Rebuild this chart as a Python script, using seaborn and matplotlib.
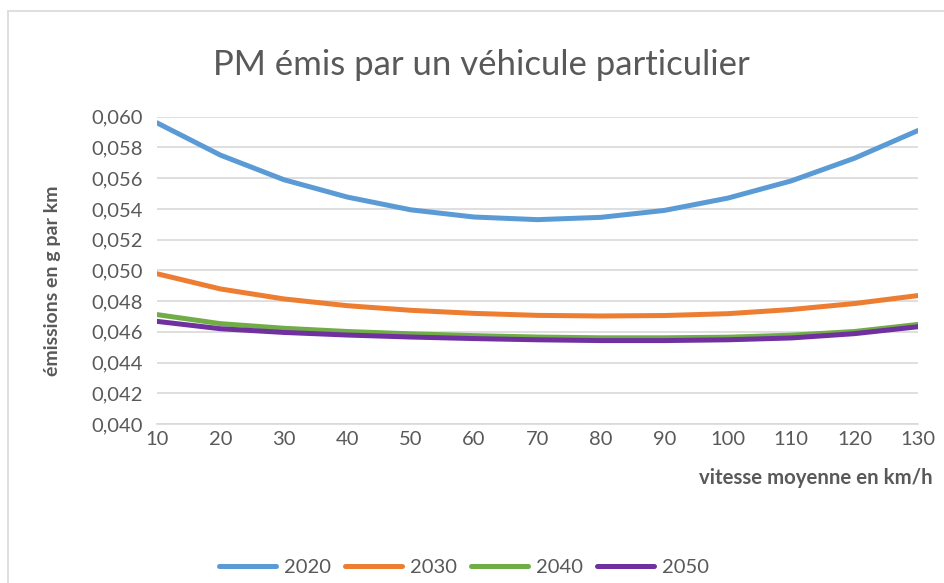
import numpy as np
import pandas as pd
import matplotlib
matplotlib.use("Agg")
import matplotlib.pyplot as plt
import seaborn as sns
from matplotlib.lines import Line2D

speeds = [10, 20, 30, 40, 50, 60, 70, 80, 90, 100, 110, 120, 130]
pm_2020 = [0.0596, 0.0575, 0.0559, 0.05477, 0.05394, 0.05347, 0.0533, 0.05345, 0.05390, 0.05470, 0.05582, 0.0573, 0.0591]
pm_2030 = [0.04978, 0.04879, 0.04814, 0.0477, 0.0474, 0.0472, 0.04707, 0.04703, 0.04706, 0.04718, 0.04745, 0.04784, 0.04836]
pm_2040 = [0.04712, 0.04653, 0.04623, 0.04602, 0.04587, 0.04575, 0.04566, 0.04561, 0.04561, 0.04565, 0.04578, 0.04602, 0.04648]
pm_2050 = [0.04668, 0.0462, 0.04596, 0.04579, 0.04566, 0.04556, 0.04548, 0.04543, 0.04543, 0.04548, 0.04560, 0.04588, 0.04633]
years = ["2020", "2030", "2040", "2050"]
colors = ["#5B9BD5", "#ED7D31", "#70AD47", "#7030A0"]
y_ticks = [0.040, 0.042, 0.044, 0.046, 0.048, 0.050, 0.052, 0.054, 0.056, 0.058, 0.060]

series = [pm_2020, pm_2030, pm_2040, pm_2050]
df = pd.concat([pd.DataFrame({"speed": speeds, "pm": s, "year": y}) for s, y in zip(series, years)],
               ignore_index=True)

sns.set_theme(style="white")
plt.rcParams["font.family"] = ["Lato", "DejaVu Sans"]
txt = "#595959"

fig = plt.figure(figsize=(9.44, 5.83), dpi=100)
ax = fig.add_axes([157/944, 1-424/583, (918-157)/944, (424-116.7)/583])

sns.lineplot(data=df, x="speed", y="pm", hue="year", palette=dict(zip(years, colors)),
             linewidth=3.6, ax=ax, legend=False, zorder=3)

ax.set_xlim(10, 130)
ax.set_ylim(0.040, 0.060)
ax.set_xticks(speeds)
ax.set_yticks(y_ticks)
ax.set_yticklabels([f"{v:.3f}".replace(".", ",") for v in y_ticks])
ax.grid(axis="y", color="#D9D9D9", linewidth=1.2)
ax.grid(axis="x", visible=False)
for s in ["top", "right", "left"]:
    ax.spines[s].set_visible(False)
ax.spines["bottom"].set_color("#D9D9D9")
ax.spines["bottom"].set_linewidth(1.2)
ax.tick_params(axis="both", length=0, labelsize=14.5, labelcolor=txt)
ax.tick_params(axis="y", pad=10)
ax.tick_params(axis="x", pad=5)
ax.set_xlabel("")
ax.set_ylabel("")

fig.text(53/944, 1-281/583, "émissions en g par km", rotation=90, ha="center", va="center",
         fontsize=14, fontweight="bold", color=txt)
fig.text(933/944, 1-478/583, "vitesse moyenne en km/h", ha="right", va="center",
         fontsize=14.7, fontweight="bold", color=txt)
fig.text(481/944, 1-65/583, "PM émis par un véhicule particulier", ha="center", va="center",
         fontsize=25, color=txt)

handles = [Line2D([0], [0], color=c, lw=3.6) for c in colors]
fig.legend(handles, years, loc="center", bbox_to_anchor=(464/944, 1-567/583), ncol=4,
           frameon=False, fontsize=14.5, handlelength=2.8, columnspacing=0.72,
           handletextpad=0.4, labelcolor=txt)

fig.add_artist(Line2D([8/944, 8/944], [0, 1-11/583], color="#D9D9D9", lw=1.2, transform=fig.transFigure))
fig.add_artist(Line2D([8/944, 1], [1-11/583, 1-11/583], color="#D9D9D9", lw=1.2, transform=fig.transFigure))

fig.savefig("out.png", dpi=100, facecolor="white")
